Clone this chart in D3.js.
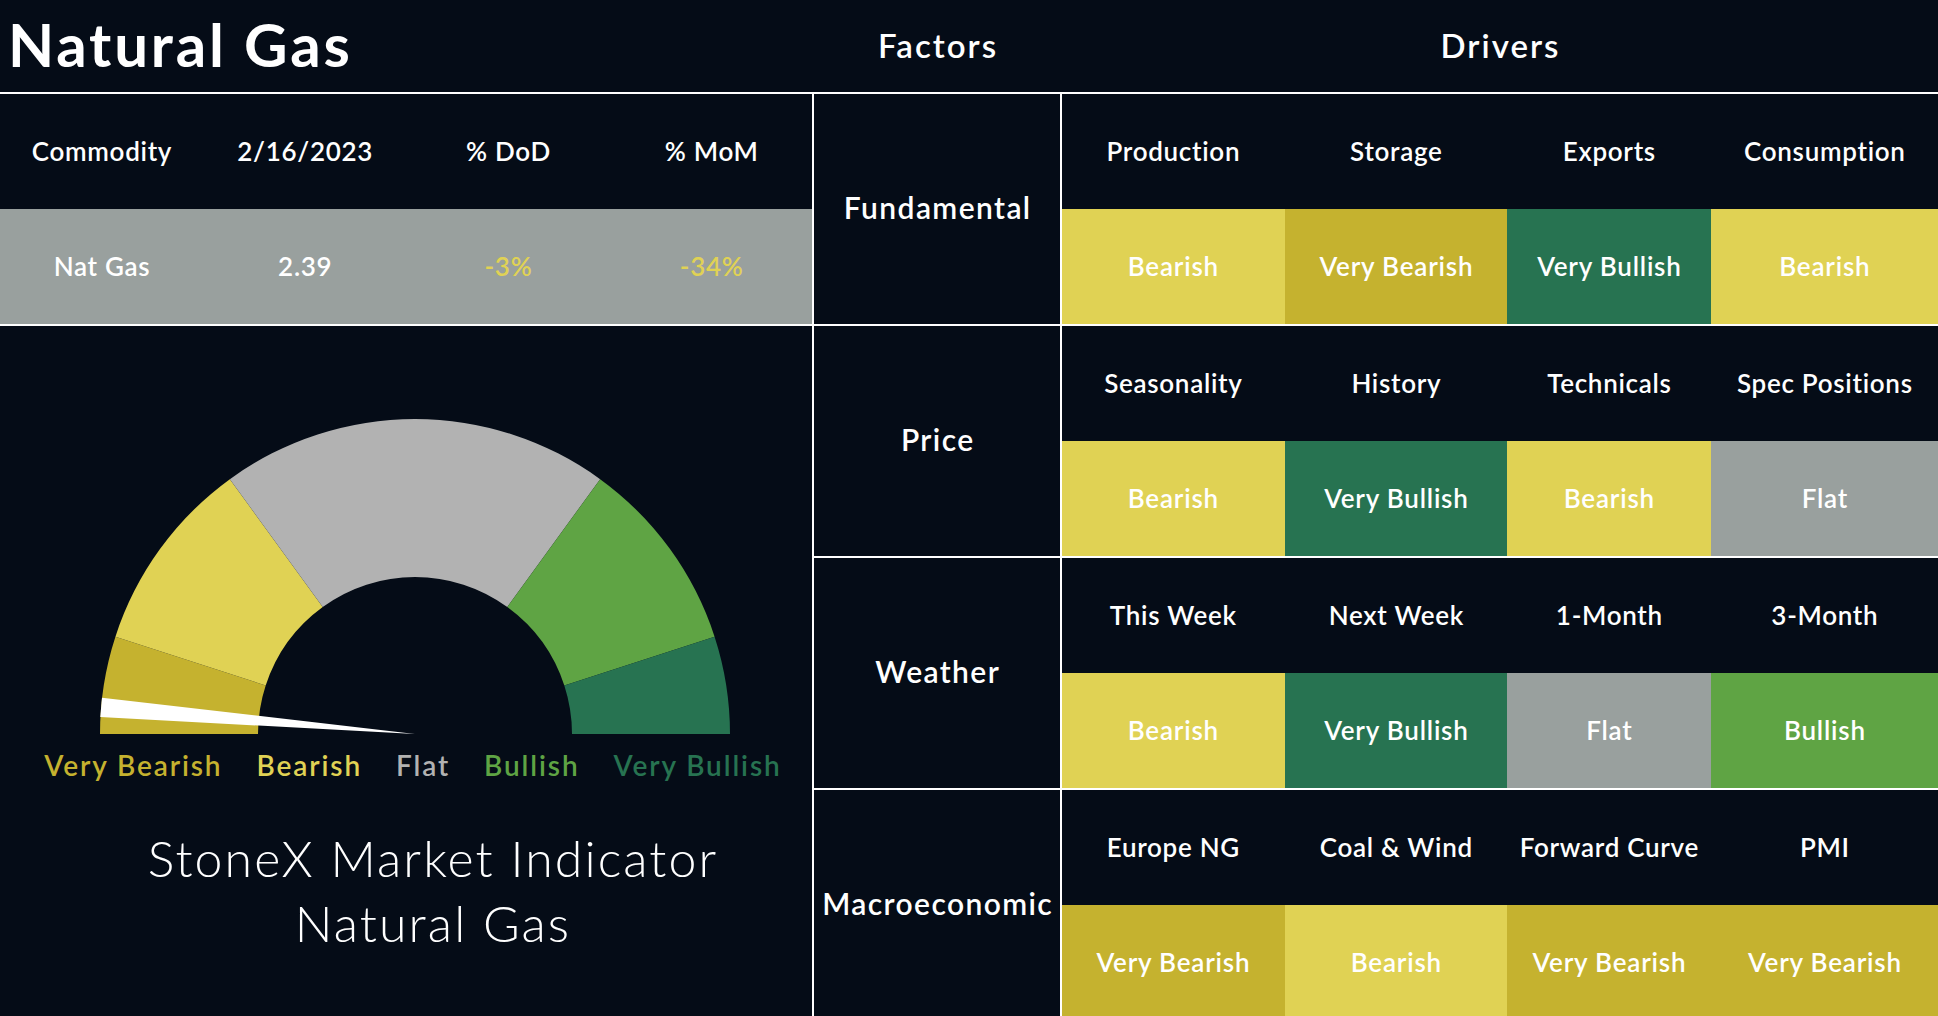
<!DOCTYPE html>
<html>
<head>
<meta charset="utf-8">
<script src="https://cdn.jsdelivr.net/npm/d3@7"></script>
<style>
  html, body { margin: 0; padding: 0; background: #050c17; overflow: hidden; }
  svg { display: block; }
  text { font-family: Lato, "Noto Sans", sans-serif; }
</style>
</head>
<body>
<svg id="chart" width="1938" height="1016"></svg>
<script>
// ---------- data ----------
const pageTitle = "Natural Gas";
const factorHeader = "Factors";
const driverHeader = "Drivers";
const commodityHeaders = ["Commodity", "2/16/2023", "% DoD", "% MoM"];
const commodityValues = ["Nat Gas", "2.39", "-3%", "-34%"];
const commodityValueTone = ["plain", "plain", "Bearish", "Bearish"];
const factors = ["Fundamental", "Price", "Weather", "Macroeconomic"];
const drivers = [
  ["Production", "Storage", "Exports", "Consumption"],
  ["Seasonality", "History", "Technicals", "Spec Positions"],
  ["This Week", "Next Week", "1-Month", "3-Month"],
  ["Europe NG", "Coal & Wind", "Forward Curve", "PMI"]
];
const signals = [
  ["Bearish", "Very Bearish", "Very Bullish", "Bearish"],
  ["Bearish", "Very Bullish", "Bearish", "Flat"],
  ["Bearish", "Very Bullish", "Flat", "Bullish"],
  ["Very Bearish", "Bearish", "Very Bearish", "Very Bearish"]
];
const gaugeLevels = ["Very Bearish", "Bearish", "Flat", "Bullish", "Very Bullish"];
const gaugeSpans = [1, 2, 4, 2, 1];
const needleValue = 0.27;          // on the 0..10 gauge scale
const gaugeCaption = ["StoneX Market Indicator", "Natural Gas"];

// ---------- styles ----------
const bg = "#050c17";
const cellColor = {
  "Very Bearish": "#c5b22f",
  "Bearish": "#e0d254",
  "Flat": "#99a09e",
  "Bullish": "#5fa444",
  "Very Bullish": "#277351"
};
const gaugeColor = {
  "Very Bearish": "#c5b22f",
  "Bearish": "#e0d254",
  "Flat": "#b2b2b2",
  "Bullish": "#5fa444",
  "Very Bullish": "#277351"
};

const W = 1938, H = 1016;
const svg = d3.select("#chart");
svg.append("rect").attr("width", W).attr("height", H).attr("fill", bg);

// layout constants
const topY = 92, rowH = 232, halfH = 117;
const leftW = 813, factorX0 = 813, factorX1 = 1061;
const driverColW = [224, 222, 204, 227];
const driverEdges = [factorX1];
driverColW.forEach(w => driverEdges.push(driverEdges[driverEdges.length - 1] + w));

// centred text helper: letter-spacing adds trailing space, so shift by half of it
function ctext(sel, x, y, size, weight, ls, fill, str) {
  return sel.append("text")
    .attr("x", x + ls / 2).attr("y", y)
    .attr("dy", "0.35em").attr("text-anchor", "middle")
    .attr("fill", fill).attr("font-size", size).attr("font-weight", weight)
    .attr("letter-spacing", ls).text(str);
}

// ---------- header ----------
svg.append("text").attr("x", 8).attr("y", 67)
  .attr("fill", "#fff").attr("font-size", 60).attr("font-weight", 700)
  .attr("letter-spacing", 2.8)
  .text(pageTitle);
svg.append("text").attr("x", (factorX0 + factorX1) / 2 + 1).attr("y", 58)
  .attr("text-anchor", "middle").attr("fill", "#fff")
  .attr("font-size", 33).attr("font-weight", 600).attr("letter-spacing", 2)
  .text(factorHeader);
svg.append("text").attr("x", (factorX1 + W) / 2 + 1).attr("y", 58)
  .attr("text-anchor", "middle").attr("fill", "#fff")
  .attr("font-size", 33).attr("font-weight", 600).attr("letter-spacing", 2)
  .text(driverHeader);

// ---------- commodity table ----------
const colX = d3.scaleBand().domain(d3.range(commodityHeaders.length)).range([0, leftW]);
svg.append("rect").attr("x", 0).attr("y", topY + halfH)
  .attr("width", leftW).attr("height", rowH - halfH).attr("fill", cellColor.Flat);
commodityHeaders.forEach((d, i) => {
  ctext(svg, colX(i) + colX.bandwidth() / 2, topY + halfH / 2 + 1, 26, 600, 0.7, "#fff", d);
});
commodityValues.forEach((d, i) => {
  const fill = commodityValueTone[i] === "plain" ? "#fff" : cellColor[commodityValueTone[i]];
  ctext(svg, colX(i) + colX.bandwidth() / 2, topY + halfH + (rowH - halfH) / 2, 26, 600, 0.7, fill, d);
});

// ---------- factors / drivers grid ----------
factors.forEach((f, r) => {
  const y0 = topY + r * rowH;
  const g = svg.append("g");
  ctext(g, (factorX0 + factorX1) / 2, y0 + rowH / 2, 30, 600, 1.4, "#fff", f);
  drivers[r].forEach((d, c) => {
    const x0 = driverEdges[c], x1 = driverEdges[c + 1];
    g.append("rect").attr("x", x0).attr("y", y0 + halfH)
      .attr("width", x1 - x0).attr("height", rowH - halfH)
      .attr("fill", cellColor[signals[r][c]]);
    ctext(g, (x0 + x1) / 2, y0 + halfH / 2 + 1, 26, 600, 0.7, "#fff", d);
    ctext(g, (x0 + x1) / 2, y0 + halfH + (rowH - halfH) / 2, 26, 600, 0.8, "#fff", signals[r][c]);
  });
});

// ---------- grid lines ----------
const lineColor = "#ffffff";
svg.append("rect").attr("x", 0).attr("y", topY).attr("width", W).attr("height", 2).attr("fill", lineColor);
svg.append("rect").attr("x", 0).attr("y", topY + rowH).attr("width", W).attr("height", 2).attr("fill", lineColor);
for (let r = 2; r < factors.length; r++) {
  svg.append("rect").attr("x", factorX0).attr("y", topY + r * rowH).attr("width", W - factorX0).attr("height", 2).attr("fill", lineColor);
}
svg.append("rect").attr("x", factorX0 - 1).attr("y", topY).attr("width", 2).attr("height", H - topY).attr("fill", lineColor);
svg.append("rect").attr("x", factorX1 - 1).attr("y", topY).attr("width", 2).attr("height", H - topY).attr("fill", lineColor);

// ---------- gauge ----------
const cx = 415, cy = 734, rOuter = 315, rInner = 157;
const gauge = svg.append("g").attr("transform", `translate(${cx},${cy})`);
const pie = d3.pie().sort(null).value(d => d).startAngle(-Math.PI / 2).endAngle(Math.PI / 2);
const arc = d3.arc().innerRadius(rInner).outerRadius(rOuter);
gauge.selectAll("path.seg").data(pie(gaugeSpans)).join("path")
  .attr("class", "seg")
  .attr("d", arc)
  .attr("fill", (d, i) => gaugeColor[gaugeLevels[i]]);

const angle = d3.scaleLinear().domain([0, d3.sum(gaugeSpans)]).range([-Math.PI / 2, Math.PI / 2]);
const a = angle(needleValue);
const halfBase = 9.7;
const bx = rOuter * Math.sin(a), by = -rOuter * Math.cos(a);
const px = Math.cos(a) * halfBase, py = Math.sin(a) * halfBase;
gauge.append("path")
  .attr("d", `M0,0L${bx + px},${by + py}L${bx - px},${by - py}Z`)
  .attr("fill", "#fff");

// legend labels (flow layout centred under gauge)
const legendY = 776, legendGap = 34;
const leg = svg.append("g");
const legTexts = leg.selectAll("text").data(gaugeLevels).join("text")
  .attr("y", legendY).attr("fill", d => gaugeColor[d])
  .attr("font-size", 28).attr("font-weight", 600).attr("letter-spacing", 1.9)
  .text(d => d);
const widths = [];
legTexts.each(function () { widths.push(this.getComputedTextLength()); });
const total = d3.sum(widths) + legendGap * (widths.length - 1);
let lx = cx - 2 - total / 2;
legTexts.attr("x", (d, i) => { const x = lx; lx += widths[i] + legendGap; return x; });

// caption
svg.selectAll("text.cap").data(gaugeCaption).join("text")
  .attr("class", "cap")
  .attr("x", 433).attr("y", (d, i) => 877 + i * 65)
  .attr("text-anchor", "middle").attr("fill", "#fff")
  .attr("font-size", 50).attr("font-weight", 300).attr("letter-spacing", 2.1)
  .text(d => d);
</script>
</body>
</html>
